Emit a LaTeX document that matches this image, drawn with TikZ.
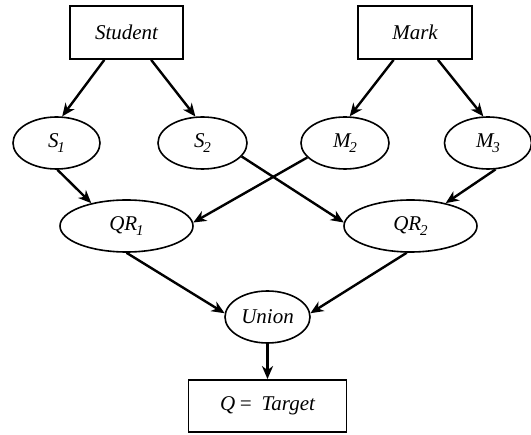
\documentclass[tikz,border=0pt]{standalone}
\usepackage{fontspec}
\setmainfont{Liberation Serif}
\usetikzlibrary{shapes.geometric,arrows.meta}
\newcommand{\sub}[1]{\kern-0.05em\raisebox{-0.25em}{\fontsize{15}{15}\selectfont #1}}
\tikzset{
  box/.style={draw, line width=1.8pt, rectangle, inner sep=0pt, minimum height=53pt},
  oval/.style={draw, line width=1.6pt, ellipse, inner sep=0pt, minimum height=52pt},
  arr/.style={-{Stealth[length=13pt,width=11pt,inset=4pt]}, line width=2.4pt},
  every node/.style={font=\fontsize{21}{25}\selectfont\itshape}
}
\begin{document}
\begin{tikzpicture}[x=1pt,y=-1pt]
\useasboundingbox (0,0) rectangle (531,435);
\node[box, minimum width=113pt] (Student) at (126.5,32.5) {Student};
\node[box, minimum width=114pt] (Mark) at (415,32.5) {Mark};
\node[oval, minimum width=87pt] (S1) at (56.5,143) {S\sub{1}};
\node[oval, minimum width=89pt] (S2) at (202.5,143) {S\sub{2}};
\node[oval, minimum width=88pt] (M2) at (345,143) {M\sub{2}};
\node[oval, minimum width=87pt] (M3) at (488,143) {M\sub{3}};
\node[oval, minimum width=133pt] (QR1) at (126.5,226) {QR\sub{1}};
\node[oval, minimum width=133pt] (QR2) at (410.5,226) {QR\sub{2}};
\node[oval, minimum width=85pt] (Union) at (267.5,317) {Union};
\node[box, minimum width=158pt, minimum height=52pt] (Target) at (267.5,406) {Q\,= \,Target};
\draw[arr] (Student.231) -- (S1.78);
\draw[arr] (Student.312) -- (S2.105);
\draw[arr] (Mark.232) -- (M2.80);
\draw[arr] (Mark.310) -- (M3.100);
\draw[arr] (S1.272) -- (QR1.147);
\draw[arr] (S2.341) -- (QR2.177);
\draw[arr] (M2.201) -- (QR1.3);
\draw[arr] (M3.286) -- (QR2.33);
\draw[arr] (QR1.south) -- (Union.175);
\draw[arr] (QR2.262) -- (Union.5);
\draw[arr] (Union.south) -- (Target.north);
\end{tikzpicture}
\end{document}
